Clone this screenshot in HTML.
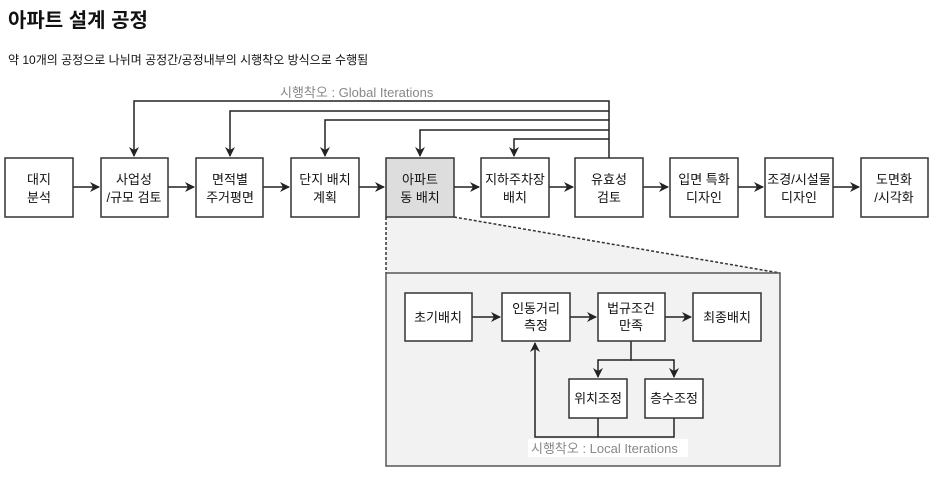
<!DOCTYPE html>
<html><head><meta charset="utf-8"><style>
body{margin:0;background:#fff;width:952px;height:474px;overflow:hidden;font-family:"Liberation Sans","Noto Sans CJK KR",sans-serif;}
</style></head><body>
<svg width="952" height="474" xmlns="http://www.w3.org/2000/svg" font-family="Liberation Sans, Noto Sans CJK KR, sans-serif">
<defs><marker id="a" markerWidth="10" markerHeight="10" refX="9" refY="5" orient="auto" markerUnits="userSpaceOnUse"><path d="M0,0 L10,5 L0,10 L3,5 z" fill="#222"/></marker></defs>
<text x="8" y="27" font-size="20" font-weight="bold" fill="#111">아파트 설계 공정</text>
<text x="8" y="64" font-size="12" fill="#111">약 10개의 공정으로 나뉘며 공정간/공정내부의 시행착오 방식으로 수행됨</text>
<text x="280" y="97" font-size="13" fill="#888">시행착오 : Global Iterations</text>
<g stroke="#222" stroke-width="1.5" fill="none">
<path d="M609,158 V101 H134 V156" marker-end="url(#a)"/>
<path d="M609,111 H230 V156" marker-end="url(#a)"/>
<path d="M609,120 H325 V156" marker-end="url(#a)"/>
<path d="M609,130 H420 V156" marker-end="url(#a)"/>
<path d="M609,139 H514 V156" marker-end="url(#a)"/>
</g>
<polygon points="386,217 454,217 780,273 386,273" fill="#f2f2f2"/>
<g stroke="#333" stroke-width="1.5" stroke-dasharray="3,2" fill="none"><path d="M386,217 V273 M454,217 L780,273"/></g>
<rect x="386" y="273" width="394" height="193" fill="#f2f2f2" stroke="#555" stroke-width="1.5"/>
<g stroke="#222" stroke-width="1.5" fill="none">
<path d="M73,187 H99" marker-end="url(#a)"/><path d="M168,187 H194" marker-end="url(#a)"/>
<path d="M263,187 H289" marker-end="url(#a)"/><path d="M359,187 H384" marker-end="url(#a)"/>
<path d="M454,187 H479" marker-end="url(#a)"/><path d="M549,187 H573" marker-end="url(#a)"/>
<path d="M643,187 H668" marker-end="url(#a)"/><path d="M738,187 H763" marker-end="url(#a)"/>
<path d="M833,187 H859" marker-end="url(#a)"/>
<path d="M472,317 H500" marker-end="url(#a)"/><path d="M570,317 H596" marker-end="url(#a)"/>
<path d="M665,317 H691" marker-end="url(#a)"/>
<path d="M631,341 V360 H598 V377" marker-end="url(#a)"/><path d="M631,360 H674 V377" marker-end="url(#a)"/>
<path d="M598,418 V437 H535 V343" marker-end="url(#a)"/><path d="M674,418 V437 H598"/>
</g>
<g stroke="#333" stroke-width="1.5" fill="#fff" font-size="13">
<rect x="5" y="158" width="68" height="59"/><rect x="101" y="158" width="67" height="59"/>
<rect x="196" y="158" width="67" height="59"/><rect x="291" y="158" width="68" height="59"/>
<rect x="386" y="158" width="68" height="59" fill="#ddd"/><rect x="481" y="158" width="68" height="59"/>
<rect x="575" y="158" width="68" height="59"/><rect x="670" y="158" width="68" height="59"/>
<rect x="765" y="158" width="68" height="59"/><rect x="861" y="158" width="67" height="59"/>
<rect x="405" y="293" width="67" height="48"/><rect x="502" y="293" width="68" height="48"/>
<rect x="598" y="293" width="67" height="48"/><rect x="693" y="293" width="68" height="48"/>
<rect x="569" y="379" width="58" height="39"/><rect x="645" y="379" width="58" height="39"/>
</g>
<rect x="528" y="439" width="160" height="18" fill="#fff"/>
<text x="531" y="453" font-size="13" fill="#888">시행착오 : Local Iterations</text>
<g font-size="13" fill="#111" text-anchor="middle">
<text x="39" y="184">대지</text><text x="39" y="202">분석</text>
<text x="134" y="184">사업성</text><text x="134" y="202">/규모 검토</text>
<text x="230" y="184">면적별</text><text x="230" y="202">주거평면</text>
<text x="325" y="184">단지 배치</text><text x="325" y="202">계획</text>
<text x="420" y="184">아파트</text><text x="420" y="202">동 배치</text>
<text x="515" y="184">지하주차장</text><text x="515" y="202">배치</text>
<text x="609" y="184">유효성</text><text x="609" y="202">검토</text>
<text x="704" y="184">입면 특화</text><text x="704" y="202">디자인</text>
<text x="799" y="184">조경/시설물</text><text x="799" y="202">디자인</text>
<text x="894" y="184">도면화</text><text x="894" y="202">/시각화</text>
<text x="438" y="322">초기배치</text>
<text x="536" y="313">인동거리</text><text x="536" y="330">측정</text>
<text x="631" y="313">법규조건</text><text x="631" y="330">만족</text>
<text x="727" y="322">최종배치</text>
<text x="598" y="403">위치조정</text><text x="674" y="403">층수조정</text>
</g>
</svg>
</body></html>
